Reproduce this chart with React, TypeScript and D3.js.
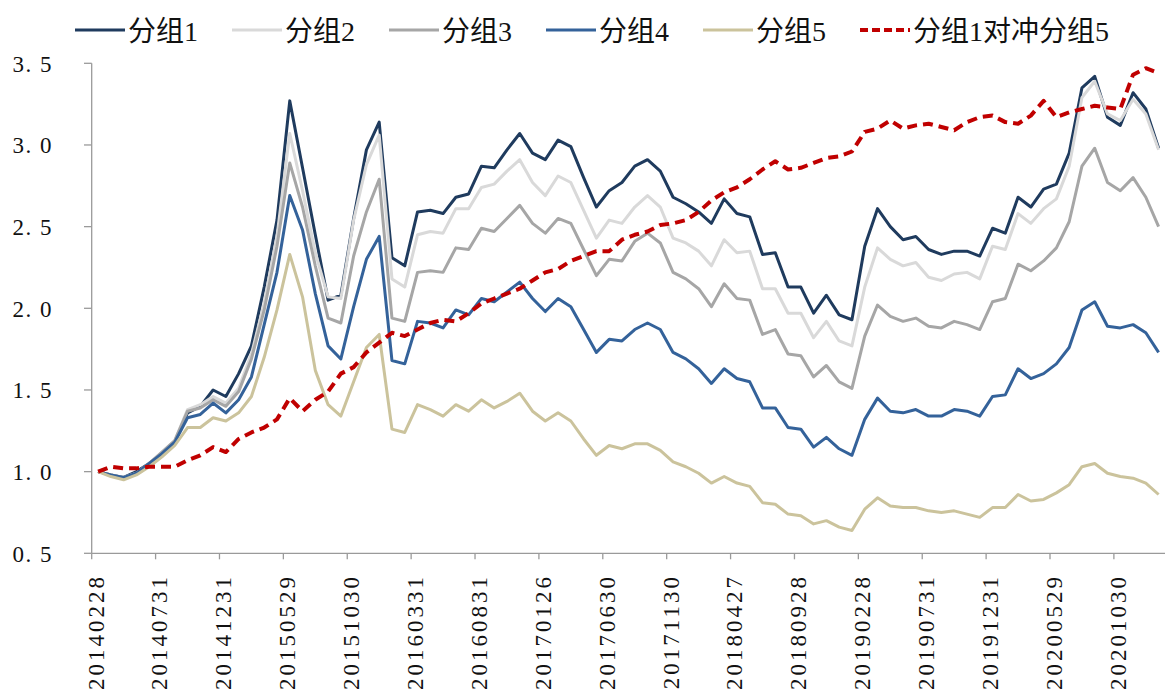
import React from 'react';
import * as d3 from 'd3';

const tickLabels = [
  '20140228', '20140731', '20141231', '20150529', '20151030', '20160331', '20160831', '20170126',
  '20170630', '20171130', '20180427', '20180928', '20190228', '20190731', '20191231', '20200529', '20201030',
];

const seriesNames = ['分组1', '分组2', '分组3', '分组4', '分组5', '分组1对冲分组5'];

const group1 = [
  1.00, 0.98, 0.965, 1.00, 1.05, 1.11, 1.18, 1.36, 1.40, 1.50, 1.46, 1.60, 1.77, 2.13, 2.54, 3.27, 2.86, 2.45, 2.05, 2.08,
  2.55, 2.97, 3.14, 2.31, 2.26, 2.59, 2.60, 2.58, 2.68, 2.70, 2.87, 2.86, 2.97, 3.07, 2.95, 2.91, 3.03, 2.99, 2.80, 2.62,
  2.72, 2.77, 2.87, 2.91, 2.84, 2.68, 2.64, 2.59, 2.52, 2.67, 2.58, 2.56, 2.33, 2.34, 2.13, 2.13, 1.97, 2.08, 1.96, 1.93,
  2.38, 2.61, 2.50, 2.42, 2.44, 2.36, 2.33, 2.35, 2.35, 2.32, 2.49, 2.46, 2.68, 2.62, 2.73, 2.76, 2.95, 3.35, 3.42, 3.17,
  3.12, 3.32, 3.22, 2.98,
];
const group2 = [
  1.00, 0.98, 0.965, 0.99, 1.05, 1.12, 1.19, 1.38, 1.41, 1.46, 1.42, 1.51, 1.72, 2.03, 2.44, 3.07, 2.72, 2.34, 2.07, 2.06,
  2.54, 2.88, 3.06, 2.18, 2.13, 2.45, 2.47, 2.46, 2.61, 2.61, 2.74, 2.76, 2.84, 2.91, 2.77, 2.69, 2.81, 2.77, 2.60, 2.43,
  2.54, 2.52, 2.62, 2.69, 2.62, 2.43, 2.40, 2.35, 2.26, 2.42, 2.34, 2.35, 2.12, 2.12, 1.97, 1.97, 1.82, 1.92, 1.80, 1.77,
  2.13, 2.37, 2.30, 2.26, 2.28, 2.19, 2.17, 2.21, 2.22, 2.18, 2.38, 2.36, 2.58, 2.52, 2.61, 2.67, 2.87, 3.29, 3.39, 3.19,
  3.15, 3.28, 3.19, 2.97,
];
const group3 = [
  1.00, 0.98, 0.96, 0.99, 1.05, 1.12, 1.19, 1.37, 1.39, 1.44, 1.40, 1.49, 1.69, 1.99, 2.38, 2.89, 2.62, 2.26, 1.94, 1.91,
  2.32, 2.59, 2.79, 1.94, 1.92, 2.22, 2.23, 2.22, 2.37, 2.36, 2.49, 2.47, 2.55, 2.63, 2.52, 2.46, 2.55, 2.52, 2.36, 2.20,
  2.30, 2.29, 2.41, 2.46, 2.40, 2.22, 2.18, 2.12, 2.01, 2.15, 2.06, 2.05, 1.84, 1.87, 1.72, 1.71, 1.58, 1.65, 1.55, 1.51,
  1.83, 2.02, 1.95, 1.92, 1.94, 1.89, 1.88, 1.92, 1.90, 1.87, 2.04, 2.06, 2.27, 2.23, 2.29, 2.37, 2.53, 2.87, 2.98, 2.77,
  2.72, 2.80, 2.68, 2.50,
];
const group4 = [
  1.00, 0.98, 0.965, 0.99, 1.05, 1.11, 1.18, 1.33, 1.35, 1.42, 1.36, 1.44, 1.58, 1.90, 2.22, 2.69, 2.48, 2.09, 1.77, 1.69,
  2.01, 2.30, 2.44, 1.68, 1.66, 1.92, 1.91, 1.88, 1.99, 1.96, 2.06, 2.04, 2.10, 2.16, 2.06, 1.98, 2.06, 2.01, 1.87, 1.73,
  1.81, 1.80, 1.87, 1.91, 1.87, 1.73, 1.69, 1.63, 1.54, 1.63, 1.57, 1.55, 1.39, 1.39, 1.27, 1.26, 1.15, 1.21, 1.14, 1.10,
  1.32, 1.45, 1.37, 1.36, 1.38, 1.34, 1.34, 1.38, 1.37, 1.34, 1.46, 1.47, 1.63, 1.57, 1.60, 1.66, 1.76, 1.99, 2.04, 1.89,
  1.88, 1.90, 1.85, 1.73,
];
const group5 = [
  1.00, 0.97, 0.95, 0.98, 1.03, 1.09, 1.16, 1.27, 1.27, 1.33, 1.31, 1.36, 1.46, 1.70, 1.99, 2.33, 2.07, 1.62, 1.41, 1.34,
  1.55, 1.76, 1.84, 1.26, 1.24, 1.41, 1.38, 1.34, 1.41, 1.37, 1.44, 1.39, 1.43, 1.48, 1.37, 1.31, 1.36, 1.31, 1.20, 1.10,
  1.16, 1.14, 1.17, 1.17, 1.13, 1.06, 1.03, 0.99, 0.93, 0.97, 0.93, 0.91, 0.81, 0.80, 0.74, 0.73, 0.68, 0.70, 0.66, 0.64,
  0.77, 0.84, 0.79, 0.78, 0.78, 0.76, 0.75, 0.76, 0.74, 0.72, 0.78, 0.78, 0.86, 0.82, 0.83, 0.87, 0.92, 1.03, 1.05, 0.99,
  0.97, 0.96, 0.93, 0.86,
];
const hedge = [
  1.00, 1.03, 1.02, 1.02, 1.03, 1.03, 1.03, 1.07, 1.10, 1.15, 1.12, 1.20, 1.24, 1.27, 1.32, 1.45, 1.37, 1.44, 1.49, 1.60,
  1.64, 1.73, 1.79, 1.85, 1.83, 1.87, 1.91, 1.93, 1.92, 1.97, 2.03, 2.06, 2.09, 2.12, 2.17, 2.22, 2.24, 2.29, 2.32, 2.35,
  2.35, 2.42, 2.45, 2.47, 2.51, 2.52, 2.54, 2.59, 2.66, 2.71, 2.74, 2.79, 2.85, 2.90, 2.85, 2.86, 2.89, 2.92, 2.93, 2.96,
  3.08, 3.10, 3.15, 3.10, 3.12, 3.13, 3.11, 3.09, 3.14, 3.17, 3.18, 3.14, 3.13, 3.18, 3.27, 3.17, 3.20, 3.22, 3.24, 3.23,
  3.22, 3.43, 3.47, 3.44,
];

const seriesData = [group1, group2, group3, group4, group5, hedge];
const colors = ['#1F3B5E', '#D9D9D9', '#A6A6A6', '#34629A', '#CBC39C', '#C00000'];

const NUM_FONT = "'Liberation Serif', 'Times New Roman', serif";
const LEGEND_FONT = "'Liberation Serif', 'Noto Sans CJK SC', serif";

export default function App() {
  const W = 1176;
  const H = 693;
  const n = group1.length;
  const idx = d3.range(n);
  const x = d3.scaleBand<number>().domain(idx).range([91.7, 1165]).paddingInner(0).paddingOuter(0);
  const y = d3.scaleLinear().domain([0.5, 3.5]).range([553.3, 63.3]);
  const cx = (i: number) => (x(i) as number) + x.bandwidth() / 2;
  const line = d3
    .line<number>()
    .x((_, i) => cx(i))
    .y((d) => y(d));

  const yTicks = y.ticks(6);
  const fmt = (v: number) => v.toFixed(1).replace('.', '. ');
  const labelIdx = tickLabels.map((_, k) => k * 5);
  const axisColor = '#9A9A9A';

  return (
    <svg
      width={W}
      height={H}
      style={{ position: 'absolute', left: 0, top: 0, background: '#fff' }}
    >
      <rect x={0} y={0} width={W} height={H} fill="#fff" />
      {/* y axis */}
      <line x1={91.7} x2={91.7} y1={y(3.5)} y2={y(0.5)} stroke={axisColor} strokeWidth={1.3} />
      {yTicks.map((t) => (
        <g key={t}>
          <line x1={84} x2={91.7} y1={y(t)} y2={y(t)} stroke={axisColor} strokeWidth={1.3} />
          <text
            x={53}
            y={y(t) + 1}
            textAnchor="end"
            dominantBaseline="central"
            fontFamily={NUM_FONT}
            fontSize={23}
            letterSpacing={1.5}
            fill="#111"
          >
            {fmt(t)}
          </text>
        </g>
      ))}
      {/* x axis */}
      <line x1={91.7} x2={1165} y1={y(0.5)} y2={y(0.5)} stroke={axisColor} strokeWidth={1.3} />
      {labelIdx.map((i, k) => (
        <g key={i}>
          <line
            x1={x(i) as number}
            x2={x(i) as number}
            y1={y(0.5)}
            y2={y(0.5) + 6}
            stroke={axisColor}
            strokeWidth={1.3}
          />
          <text
            transform={`translate(${cx(i) - 2},${574}) rotate(-90)`}
            textAnchor="end"
            dominantBaseline="central"
            fontFamily={NUM_FONT}
            fontSize={23}
            letterSpacing={3}
            fill="#111"
          >
            {tickLabels[k]}
          </text>
        </g>
      ))}
      {/* series */}
      {seriesData.map((s, k) => (
        <path
          key={seriesNames[k]}
          d={line(s) || ''}
          fill="none"
          stroke={colors[k]}
          strokeWidth={k === 5 ? 4 : 3}
          strokeDasharray={k === 5 ? '10,6' : undefined}
          strokeLinejoin="round"
        />
      ))}
      {/* legend */}
      {seriesNames.map((name, k) => {
        const x0 = 75 + k * 157;
        return (
          <g key={name}>
            <line
              x1={x0}
              x2={x0 + 50}
              y1={30}
              y2={30}
              stroke={colors[k]}
              strokeWidth={k === 5 ? 4 : 3}
              strokeDasharray={k === 5 ? '8,4' : undefined}
            />
            <text
              x={x0 + 53}
              y={31}
              dominantBaseline="central"
              fontFamily={LEGEND_FONT}
              fontSize={28}
              fill="#111"
            >
              {name}
            </text>
          </g>
        );
      })}
    </svg>
  );
}
